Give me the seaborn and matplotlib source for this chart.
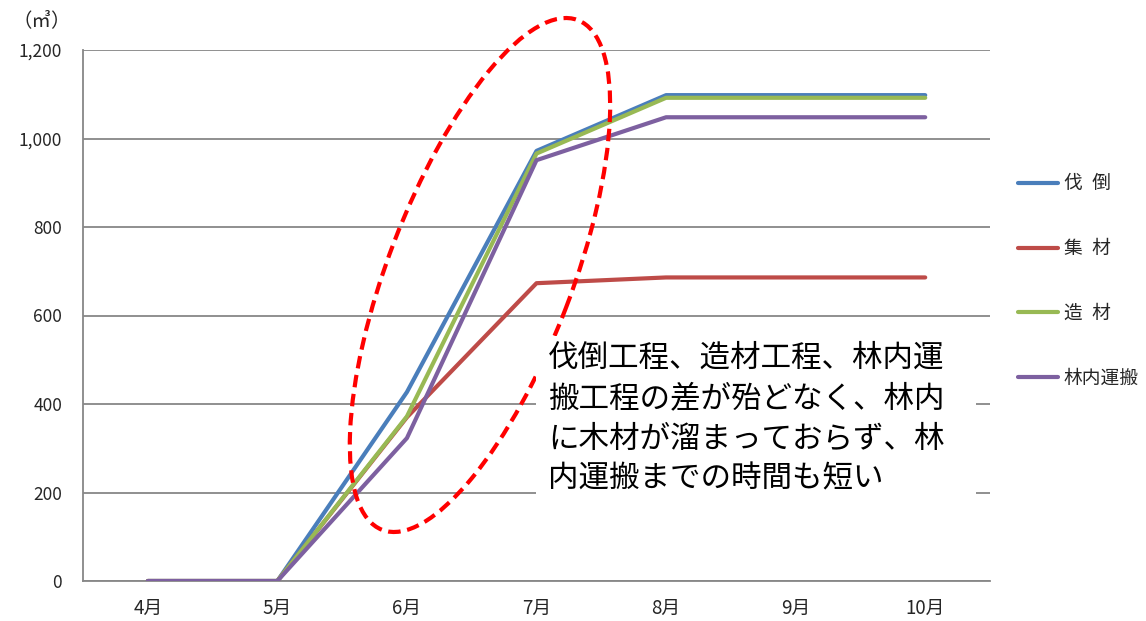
import matplotlib
matplotlib.use("Agg")
import matplotlib.pyplot as plt
from matplotlib.patches import Ellipse, Rectangle
from matplotlib.ticker import FixedLocator
import numpy as np
import pandas as pd
import seaborn as sns

# Monthly cumulative volume (m3) per process
months = ["4月", "5月", "6月", "7月", "8月", "9月", "10月"]
felling = [0, 0, 427, 972, 1098, 1098, 1098]        # 伐倒
yarding = [0, 0, 370, 673, 686, 686, 686]           # 集材
bucking = [0, 0, 372, 966, 1092, 1092, 1092]        # 造材
forwarding = [0, 0, 323, 951, 1048, 1048, 1048]     # 林内運搬

series_labels = ["伐\u2002倒", "集\u2002材", "造\u2002材", "林内運搬"]
series_colors = ["#4A7EBB", "#BE4B48", "#98B954", "#7D60A0"]

y_ticks = [0, 200, 400, 600, 800, 1000, 1200]
y_tick_labels = ["0", "200", "400", "600", "800", "1,000", "1,200"]

note = ("伐倒工程、造材工程、林内運\n搬工程の差が殆どなく、林内\n"
        "に木材が溜まっておらず、林\n内運搬までの時間も短い")

df = pd.DataFrame({
    "month": months * 4,
    "volume": felling + yarding + bucking + forwarding,
    "process": [lab for lab in series_labels for _ in months],
})

sns.set_theme(style="white")
plt.rcParams["font.family"] = ["Noto Sans CJK JP", "DejaVu Sans"]

W, H = 1146, 621
fig = plt.figure(figsize=(W / 100, H / 100), dpi=100)
ax = fig.add_axes([83 / W, 1 - 581 / H, (990 - 83) / W, (581 - 50) / H])

sns.lineplot(data=df, x="month", y="volume", hue="process",
             hue_order=series_labels, palette=series_colors,
             sort=False, linewidth=3.0, ax=ax, zorder=3)

ax.set_xlim(-0.5, len(months) - 0.5)
ax.set_ylim(0, 1200)
ax.set_xlabel("")
ax.set_ylabel("")

# horizontal grid
ax.yaxis.set_major_locator(FixedLocator(y_ticks))
ax.set_yticklabels(y_tick_labels, fontsize=12.5)
ax.grid(axis="y", color="#878787", linewidth=1.3, zorder=0)
ax.tick_params(axis="y", length=0, pad=15)

# category labels centred, tick marks on the boundaries
ax.set_xticks(range(len(months)))
ax.set_xticklabels(months, fontsize=13.5)
ax.tick_params(axis="x", which="major", length=0, pad=12)
ax.xaxis.set_minor_locator(FixedLocator(np.arange(-0.5, len(months), 1.0)))
ax.tick_params(axis="x", which="minor", direction="in", length=6,
               width=1.3, color="#878787")

for side in ["top", "right"]:
    ax.spines[side].set_visible(False)
for side in ["left", "bottom"]:
    ax.spines[side].set_color("#878787")
    ax.spines[side].set_linewidth(1.3)

# unit label
fig.text(42 / W, 1 - 21 / H, "（㎥）", fontsize=14, ha="center", va="center")

# legend on the right
handles, labels = ax.get_legend_handles_labels()
ax.get_legend().remove()
fig.legend(handles, labels, loc="center left",
           bbox_to_anchor=(1018 / W, 1 - 281 / H), frameon=False,
           fontsize=13.5, handlelength=2.15, handletextpad=0.3,
           labelspacing=2.33, borderpad=0, borderaxespad=0)

# dashed red ellipse highlighting the June-July interval
ell = Ellipse((4.80, (H - 275) / 100), width=5.46, height=1.84, angle=69,
              transform=fig.dpi_scale_trans, fill=False, edgecolor="#FF0000",
              linewidth=3.0, linestyle=(0, (3, 1.6)), clip_on=False, zorder=5)
fig.add_artist(ell)

# commentary box
box = Rectangle((536 / 100, (H - 497) / 100), (976 - 536) / 100,
                (497 - 336) / 100, transform=fig.dpi_scale_trans,
                facecolor="white", edgecolor="none", zorder=6)
fig.add_artist(box)
fig.text(548 / W, 1 - 343 / H, note, fontsize=22, ha="left", va="top",
         linespacing=1.38, color="black", zorder=7)

fig.savefig("out.png", dpi=100)
